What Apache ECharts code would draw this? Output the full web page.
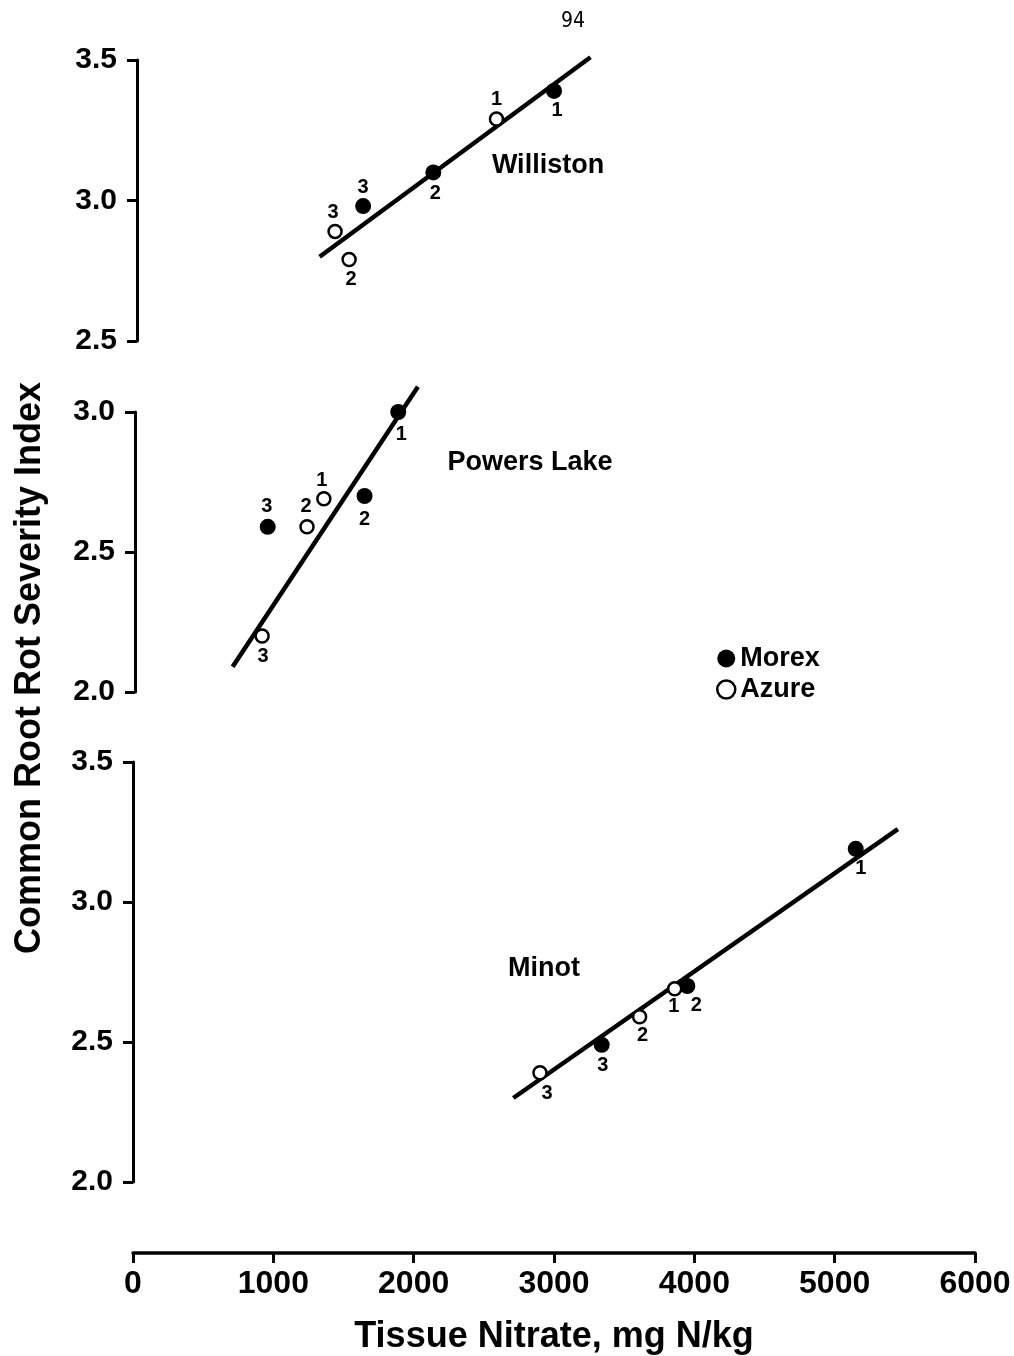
<!DOCTYPE html>
<html><head><meta charset="utf-8">
<script src="https://cdn.jsdelivr.net/npm/echarts@6/dist/echarts.min.js"></script>
<style>html,body{margin:0;padding:0;background:#fff}#c{width:1014px;height:1356px}</style>
</head><body><div id="c"></div>
<script>
// ---------- data ----------
const panelNames = ['Williston', 'Powers Lake', 'Minot'];
const rankLabels = ['1', '2', '3'];

const willistonMorexX = [3000, 2140, 1640];
const willistonMorexY = [3.39, 3.10, 2.98];
const willistonAzureX = [2590, 1540, 1440];
const willistonAzureY = [3.29, 2.79, 2.89];
const willistonLineX = [1330, 3260];
const willistonLineY = [2.80, 3.51];

const powersMorexX = [1890, 1650, 960];
const powersMorexY = [3.00, 2.70, 2.59];
const powersAzureX = [1360, 1240, 920];
const powersAzureY = [2.69, 2.59, 2.20];
const powersLineX = [710, 2030];
const powersLineY = [2.09, 3.09];

const minotMorexX = [5150, 3950, 3340];
const minotMorexY = [3.19, 2.70, 2.49];
const minotAzureX = [3860, 3610, 2900];
const minotAzureY = [2.69, 2.59, 2.39];
const minotLineX = [2710, 5450];
const minotLineY = [2.30, 3.26];

const xTickValues = [0, 1000, 2000, 3000, 4000, 5000, 6000];
const yTicksWilliston = [2.5, 3.0, 3.5];
const yTicksPowers = [2.0, 2.5, 3.0];
const yTicksMinot = [2.0, 2.5, 3.0, 3.5];

const pageNumber = '94';
const xTitle = 'Tissue Nitrate, mg N/kg';
const yTitle = 'Common Root Rot Severity Index';
const legendNames = ['Morex', 'Azure'];

// ---------- styling / layout ----------
const FONT = '"Liberation Sans", Arial, sans-serif';

const panels = [
  {mx: willistonMorexX, my: willistonMorexY, ax: willistonAzureX, ay: willistonAzureY,
   lx: willistonLineX, ly: willistonLineY, ticks: yTicksWilliston,
   grid: {top: 60, height: 281}, yOff: -4,
   mOff: [[3, 20], [2, 21], [0, -19]], aOff: [[0, -20], [2, 20], [-2, -19]],
   title: [548, 166]},
  {mx: powersMorexX, my: powersMorexY, ax: powersAzureX, ay: powersAzureY,
   lx: powersLineX, ly: powersLineY, ticks: yTicksPowers,
   grid: {top: 412, height: 280}, yOff: -2,
   mOff: [[3, 22], [0, 23], [-1, -20]], aOff: [[-2, -18], [-1, -20], [1, 20]],
   title: [530, 463]},
  {mx: minotMorexX, my: minotMorexY, ax: minotAzureX, ay: minotAzureY,
   lx: minotLineX, ly: minotLineY, ticks: yTicksMinot,
   grid: {top: 762, height: 420}, yOff: 0,
   mOff: [[5, 20], [9, 19], [1, 21]], aOff: [[-1, 18], [3, 19], [7, 21]],
   title: [544, 969]}
];

const grids = [], xAxes = [], yAxes = [], series = [], graphics = [];

panels.forEach((p, i) => {
  grids.push({left: 133, width: 842, top: p.grid.top, height: p.grid.height});
  const isBottom = i === panels.length - 1;
  xAxes.push({
    type: 'value', gridIndex: i,
    min: xTickValues[0], max: xTickValues[xTickValues.length - 1],
    interval: xTickValues[1] - xTickValues[0],
    show: isBottom, offset: isBottom ? 71 : 0,
    axisLine: {show: true, lineStyle: {color: '#000', width: 3.5}},
    axisTick: {show: true, length: 10, lineStyle: {color: '#000', width: 3}},
    axisLabel: {show: true, color: '#000', fontFamily: FONT, fontWeight: 'bold', fontSize: 32, margin: 15,
      formatter: v => String(v)},
    splitLine: {show: false},
    name: isBottom ? xTitle : '', nameLocation: 'middle', nameGap: 66,
    nameTextStyle: {color: '#000', fontFamily: FONT, fontWeight: 'bold', fontSize: 36}
  });
  yAxes.push({
    type: 'value', gridIndex: i,
    min: p.ticks[0], max: p.ticks[p.ticks.length - 1], interval: p.ticks[1] - p.ticks[0],
    offset: p.yOff,
    axisLine: {show: true, lineStyle: {color: '#000', width: 3}},
    axisTick: {show: true, length: 10, lineStyle: {color: '#000', width: 3}},
    axisLabel: {show: true, color: '#000', fontFamily: FONT, fontWeight: 'bold', fontSize: 30, margin: 20,
      formatter: v => v.toFixed(1)},
    splitLine: {show: false}
  });
  series.push({
    type: 'line', name: 'fit', xAxisIndex: i, yAxisIndex: i, z: 2, clip: false, silent: true,
    symbol: 'none', lineStyle: {color: '#000', width: 4.5},
    data: p.lx.map((x, k) => [x, p.ly[k]])
  });
  const lbl = (off, k) => ({show: true, position: 'inside', offset: off[k], formatter: rankLabels[k],
    color: '#000', fontFamily: FONT, fontWeight: 'bold', fontSize: 20});
  series.push({
    type: 'scatter', name: legendNames[0], xAxisIndex: i, yAxisIndex: i, z: 4,
    symbol: 'circle', symbolSize: 16, itemStyle: {color: '#000', opacity: 1},
    data: p.mx.map((x, k) => ({value: [x, p.my[k]], label: lbl(p.mOff, k)}))
  });
  series.push({
    type: 'scatter', name: legendNames[1], xAxisIndex: i, yAxisIndex: i, z: 5,
    symbol: 'circle', symbolSize: 13, itemStyle: {color: '#fff', borderColor: '#000', borderWidth: 2.5, opacity: 1},
    data: p.ax.map((x, k) => ({value: [x, p.ay[k]], label: lbl(p.aOff, k)}))
  });
  graphics.push({type: 'text', x: p.title[0], y: p.title[1],
    style: {text: panelNames[i], fill: '#000', font: 'bold 27px ' + FONT, textAlign: 'center', textVerticalAlign: 'middle'}});
});

graphics.push({type: 'text', x: 573, y: 22,
  style: {text: pageNumber, fill: '#000', font: '21px "DejaVu Sans Condensed", "DejaVu Sans", sans-serif', textAlign: 'center', textVerticalAlign: 'middle'}});
graphics.push({type: 'text', x: 30, y: 668, rotation: Math.PI / 2,
  style: {text: yTitle, fill: '#000', font: 'bold 36px ' + FONT, textAlign: 'center', textVerticalAlign: 'middle'}});

const chart = echarts.init(document.getElementById('c'), null, {renderer: 'canvas'});
chart.setOption({
  animation: false,
  backgroundColor: '#fff',
  grid: grids, xAxis: xAxes, yAxis: yAxes, series: series, graphic: graphics,
  legend: {
    orient: 'vertical', left: 716, top: 645, padding: 0, itemWidth: 18, itemHeight: 18, itemGap: 4,
    icon: 'circle', selectedMode: false,
    textStyle: {color: '#000', fontFamily: FONT, fontWeight: 'bold', fontSize: 27},
    data: [
      {name: legendNames[0], itemStyle: {color: '#000', opacity: 1}},
      {name: legendNames[1], itemStyle: {color: '#fff', borderColor: '#000', borderWidth: 2.5, opacity: 1}}
    ]
  }
});
</script></body></html>
